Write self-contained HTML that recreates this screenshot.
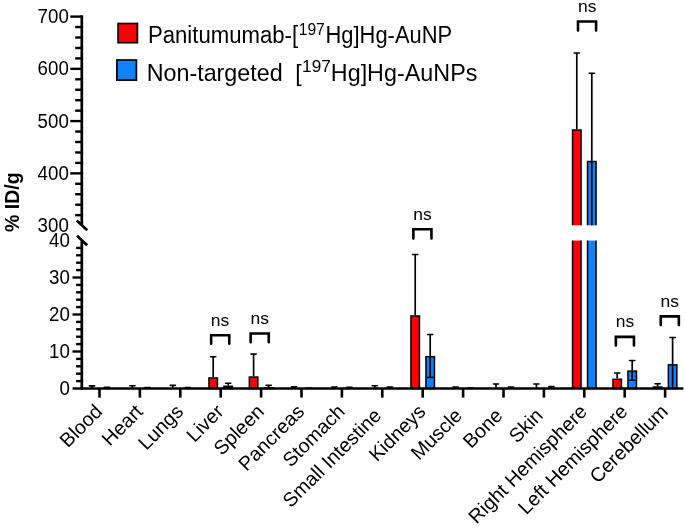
<!DOCTYPE html>
<html><head><meta charset="utf-8"><style>
html,body{margin:0;padding:0;background:#fff;}
#w{position:absolute;left:0;top:0;width:685px;height:529px;will-change:transform;}
svg{display:block;}
text{font-family:"Liberation Sans",sans-serif;fill:#000;}
</style></head><body><div id="w">
<svg width="685" height="529" viewBox="0 0 685 529">
<rect width="685" height="529" fill="#fff"/>
<path d="M92 387.94V385.91" stroke="#000" stroke-width="1.7"/>
<path d="M89.4 385.91H94.6" stroke="#000" stroke-width="1.6" stroke-linecap="round"/>
<path d="M107 389.06V388.5" stroke="#000" stroke-width="1.7"/>
<path d="M107 388.31V387.39" stroke="#000" stroke-width="1.7"/>
<path d="M104.4 387.39H109.6" stroke="#000" stroke-width="1.6" stroke-linecap="round"/>
<path d="M132.4 387.94V385.73" stroke="#000" stroke-width="1.7"/>
<path d="M129.8 385.73H135" stroke="#000" stroke-width="1.6" stroke-linecap="round"/>
<path d="M147.4 389.06V388.5" stroke="#000" stroke-width="1.7"/>
<path d="M147.4 388.31V387.57" stroke="#000" stroke-width="1.7"/>
<path d="M144.8 387.57H150" stroke="#000" stroke-width="1.6" stroke-linecap="round"/>
<path d="M172.8 387.76V385.36" stroke="#000" stroke-width="1.7"/>
<path d="M170.2 385.36H175.4" stroke="#000" stroke-width="1.6" stroke-linecap="round"/>
<path d="M187.8 389.06V388.5" stroke="#000" stroke-width="1.7"/>
<path d="M187.8 388.31V387.57" stroke="#000" stroke-width="1.7"/>
<path d="M185.2 387.57H190.4" stroke="#000" stroke-width="1.6" stroke-linecap="round"/>
<rect x="208.95" y="377.96" width="8.5" height="10.54" fill="#fb0007" stroke="#000" stroke-width="1.5"/>
<path d="M213.2 377.21V356.68" stroke="#000" stroke-width="1.7"/>
<path d="M210.6 356.68H215.8" stroke="#000" stroke-width="1.6" stroke-linecap="round"/>
<rect x="223.95" y="386.29" width="8.5" height="2.21" fill="#1181ff" stroke="#000" stroke-width="1.5"/>
<path d="M228.2 386.29V387.76" stroke="#000" stroke-width="1.7"/>
<path d="M225.6 387.76H230.8" stroke="#000" stroke-width="1.6" stroke-linecap="round"/>
<path d="M228.2 385.54V383.32" stroke="#000" stroke-width="1.7"/>
<path d="M225.6 383.32H230.8" stroke="#000" stroke-width="1.6" stroke-linecap="round"/>
<rect x="249.35" y="377.04" width="8.5" height="11.46" fill="#fb0007" stroke="#000" stroke-width="1.5"/>
<path d="M253.6 376.29V354.09" stroke="#000" stroke-width="1.7"/>
<path d="M251 354.09H256.2" stroke="#000" stroke-width="1.6" stroke-linecap="round"/>
<rect x="264.35" y="387.77" width="8.5" height="0.73" fill="#1181ff" stroke="#000" stroke-width="1.5"/>
<path d="M268.6 387.77V388.5" stroke="#000" stroke-width="1.7"/>
<path d="M268.6 387.02V385.36" stroke="#000" stroke-width="1.7"/>
<path d="M266 385.36H271.2" stroke="#000" stroke-width="1.6" stroke-linecap="round"/>
<path d="M294 388.13V386.83" stroke="#000" stroke-width="1.7"/>
<path d="M291.4 386.83H296.6" stroke="#000" stroke-width="1.6" stroke-linecap="round"/>
<path d="M309 389.06V388.5" stroke="#000" stroke-width="1.7"/>
<path d="M309 388.31V387.94" stroke="#000" stroke-width="1.7"/>
<path d="M306.4 387.94H311.6" stroke="#000" stroke-width="1.6" stroke-linecap="round"/>
<path d="M334.4 388.13V387.02" stroke="#000" stroke-width="1.7"/>
<path d="M331.8 387.02H337" stroke="#000" stroke-width="1.6" stroke-linecap="round"/>
<path d="M349.4 388.88V388.5" stroke="#000" stroke-width="1.7"/>
<path d="M349.4 388.13V387.2" stroke="#000" stroke-width="1.7"/>
<path d="M346.8 387.2H352" stroke="#000" stroke-width="1.6" stroke-linecap="round"/>
<path d="M374.8 387.76V385.73" stroke="#000" stroke-width="1.7"/>
<path d="M372.2 385.73H377.4" stroke="#000" stroke-width="1.6" stroke-linecap="round"/>
<path d="M389.8 388.88V388.5" stroke="#000" stroke-width="1.7"/>
<path d="M389.8 388.13V387.02" stroke="#000" stroke-width="1.7"/>
<path d="M387.2 387.02H392.4" stroke="#000" stroke-width="1.6" stroke-linecap="round"/>
<rect x="410.95" y="315.99" width="8.5" height="72.51" fill="#fb0007" stroke="#000" stroke-width="1.5"/>
<path d="M415.2 315.24V254.56" stroke="#000" stroke-width="1.7"/>
<path d="M412.6 254.56H417.8" stroke="#000" stroke-width="1.6" stroke-linecap="round"/>
<rect x="425.95" y="356.69" width="8.5" height="31.81" fill="#1181ff" stroke="#000" stroke-width="1.5"/>
<path d="M430.2 356.69V377.4" stroke="#000" stroke-width="1.7"/>
<path d="M427.6 377.4H432.8" stroke="#000" stroke-width="1.6" stroke-linecap="round"/>
<path d="M430.2 355.94V334.48" stroke="#000" stroke-width="1.7"/>
<path d="M427.6 334.48H432.8" stroke="#000" stroke-width="1.6" stroke-linecap="round"/>
<path d="M455.6 388.13V387.02" stroke="#000" stroke-width="1.7"/>
<path d="M453 387.02H458.2" stroke="#000" stroke-width="1.6" stroke-linecap="round"/>
<path d="M470.6 389.06V388.5" stroke="#000" stroke-width="1.7"/>
<path d="M470.6 388.31V387.94" stroke="#000" stroke-width="1.7"/>
<path d="M468 387.94H473.2" stroke="#000" stroke-width="1.6" stroke-linecap="round"/>
<path d="M496 387.76V384.06" stroke="#000" stroke-width="1.7"/>
<path d="M493.4 384.06H498.6" stroke="#000" stroke-width="1.6" stroke-linecap="round"/>
<path d="M511 388.88V388.5" stroke="#000" stroke-width="1.7"/>
<path d="M511 388.13V387.02" stroke="#000" stroke-width="1.7"/>
<path d="M508.4 387.02H513.6" stroke="#000" stroke-width="1.6" stroke-linecap="round"/>
<path d="M536.4 387.76V384.06" stroke="#000" stroke-width="1.7"/>
<path d="M533.8 384.06H539" stroke="#000" stroke-width="1.6" stroke-linecap="round"/>
<path d="M551.4 388.88V388.5" stroke="#000" stroke-width="1.7"/>
<path d="M551.4 388.13V386.65" stroke="#000" stroke-width="1.7"/>
<path d="M548.8 386.65H554" stroke="#000" stroke-width="1.6" stroke-linecap="round"/>
<rect x="572.55" y="130" width="8.5" height="95.3" fill="#fb0007"/>
<path d="M572.55 225.3V130H581.05V225.3" fill="none" stroke="#000" stroke-width="1.5"/>
<rect x="572.55" y="240.6" width="8.5" height="147.9" fill="#fb0007"/>
<path d="M572.55 240.6V388.5M581.05 240.6V388.5" fill="none" stroke="#000" stroke-width="1.5"/>
<path d="M576.8 129.25V52.97" stroke="#000" stroke-width="1.7"/>
<path d="M574.2 52.97H579.4" stroke="#000" stroke-width="1.6" stroke-linecap="round"/>
<rect x="587.55" y="161.61" width="8.5" height="63.69" fill="#1181ff"/>
<path d="M587.55 225.3V161.61H596.05V225.3" fill="none" stroke="#000" stroke-width="1.5"/>
<rect x="587.55" y="240.6" width="8.5" height="147.9" fill="#1181ff"/>
<path d="M587.55 240.6V388.5M596.05 240.6V388.5" fill="none" stroke="#000" stroke-width="1.5"/>
<path d="M591.8 161.61V225.3" stroke="#000" stroke-width="1.7"/>
<path d="M591.8 160.86V73.29" stroke="#000" stroke-width="1.7"/>
<path d="M589.2 73.29H594.4" stroke="#000" stroke-width="1.6" stroke-linecap="round"/>
<rect x="612.95" y="379.26" width="8.5" height="9.24" fill="#fb0007" stroke="#000" stroke-width="1.5"/>
<path d="M617.2 378.51V372.96" stroke="#000" stroke-width="1.7"/>
<path d="M614.6 372.96H619.8" stroke="#000" stroke-width="1.6" stroke-linecap="round"/>
<rect x="627.95" y="371.12" width="8.5" height="17.38" fill="#1181ff" stroke="#000" stroke-width="1.5"/>
<path d="M632.2 371.12V380.25" stroke="#000" stroke-width="1.7"/>
<path d="M629.6 380.25H634.8" stroke="#000" stroke-width="1.6" stroke-linecap="round"/>
<path d="M632.2 370.37V360.49" stroke="#000" stroke-width="1.7"/>
<path d="M629.6 360.49H634.8" stroke="#000" stroke-width="1.6" stroke-linecap="round"/>
<rect x="653.35" y="387.03" width="8.5" height="1.47" fill="#fb0007" stroke="#000" stroke-width="1.5"/>
<path d="M657.6 386.28V383.69" stroke="#000" stroke-width="1.7"/>
<path d="M655 383.69H660.2" stroke="#000" stroke-width="1.6" stroke-linecap="round"/>
<rect x="668.35" y="364.83" width="8.5" height="23.67" fill="#1181ff" stroke="#000" stroke-width="1.5"/>
<path d="M672.6 364.83V388.5" stroke="#000" stroke-width="1.7"/>
<path d="M672.6 364.08V337.44" stroke="#000" stroke-width="1.7"/>
<path d="M670 337.44H675.2" stroke="#000" stroke-width="1.6" stroke-linecap="round"/>
<path d="M81.8 15.3V224.5" stroke="#000" stroke-width="2.7"/>
<path d="M81.8 241.2V389.8" stroke="#000" stroke-width="2.7"/>
<path d="M72.6 388.5H683.4" stroke="#000" stroke-width="2.7"/>
<path d="M75.2 215.15H81.8" stroke="#000" stroke-width="2.4"/>
<path d="M75.2 204.7H81.8" stroke="#000" stroke-width="2.4"/>
<path d="M75.2 194.25H81.8" stroke="#000" stroke-width="2.4"/>
<path d="M75.2 183.8H81.8" stroke="#000" stroke-width="2.4"/>
<path d="M70.3 173.35H81.8" stroke="#000" stroke-width="2.4"/>
<path d="M75.2 162.9H81.8" stroke="#000" stroke-width="2.4"/>
<path d="M75.2 152.45H81.8" stroke="#000" stroke-width="2.4"/>
<path d="M75.2 142H81.8" stroke="#000" stroke-width="2.4"/>
<path d="M75.2 131.55H81.8" stroke="#000" stroke-width="2.4"/>
<path d="M70.3 121.1H81.8" stroke="#000" stroke-width="2.4"/>
<path d="M75.2 110.65H81.8" stroke="#000" stroke-width="2.4"/>
<path d="M75.2 100.2H81.8" stroke="#000" stroke-width="2.4"/>
<path d="M75.2 89.75H81.8" stroke="#000" stroke-width="2.4"/>
<path d="M75.2 79.3H81.8" stroke="#000" stroke-width="2.4"/>
<path d="M70.3 68.85H81.8" stroke="#000" stroke-width="2.4"/>
<path d="M75.2 58.4H81.8" stroke="#000" stroke-width="2.4"/>
<path d="M75.2 47.95H81.8" stroke="#000" stroke-width="2.4"/>
<path d="M75.2 37.5H81.8" stroke="#000" stroke-width="2.4"/>
<path d="M75.2 27.05H81.8" stroke="#000" stroke-width="2.4"/>
<path d="M70.3 16.6H81.8" stroke="#000" stroke-width="2.4"/>
<path d="M76.1 381.1H81.8" stroke="#000" stroke-width="2.4"/>
<path d="M76.1 373.7H81.8" stroke="#000" stroke-width="2.4"/>
<path d="M76.1 366.3H81.8" stroke="#000" stroke-width="2.4"/>
<path d="M76.1 358.9H81.8" stroke="#000" stroke-width="2.4"/>
<path d="M72.5 351.5H81.8" stroke="#000" stroke-width="2.4"/>
<path d="M76.1 344.1H81.8" stroke="#000" stroke-width="2.4"/>
<path d="M76.1 336.7H81.8" stroke="#000" stroke-width="2.4"/>
<path d="M76.1 329.3H81.8" stroke="#000" stroke-width="2.4"/>
<path d="M76.1 321.9H81.8" stroke="#000" stroke-width="2.4"/>
<path d="M72.5 314.5H81.8" stroke="#000" stroke-width="2.4"/>
<path d="M76.1 307.1H81.8" stroke="#000" stroke-width="2.4"/>
<path d="M76.1 299.7H81.8" stroke="#000" stroke-width="2.4"/>
<path d="M76.1 292.3H81.8" stroke="#000" stroke-width="2.4"/>
<path d="M76.1 284.9H81.8" stroke="#000" stroke-width="2.4"/>
<path d="M72.5 277.5H81.8" stroke="#000" stroke-width="2.4"/>
<path d="M76.1 270.1H81.8" stroke="#000" stroke-width="2.4"/>
<path d="M76.1 262.7H81.8" stroke="#000" stroke-width="2.4"/>
<path d="M76.1 255.3H81.8" stroke="#000" stroke-width="2.4"/>
<path d="M76.1 247.9H81.8" stroke="#000" stroke-width="2.4"/>
<path d="M76.7 220.5L87.3 230.2M77.0 235.8L87.2 245.2" stroke="#000" stroke-width="2.7"/>
<path d="M99.5 388.5V397.6" stroke="#000" stroke-width="2.6"/>
<path d="M139.9 388.5V397.6" stroke="#000" stroke-width="2.6"/>
<path d="M180.3 388.5V397.6" stroke="#000" stroke-width="2.6"/>
<path d="M220.7 388.5V397.6" stroke="#000" stroke-width="2.6"/>
<path d="M261.1 388.5V397.6" stroke="#000" stroke-width="2.6"/>
<path d="M301.5 388.5V397.6" stroke="#000" stroke-width="2.6"/>
<path d="M341.9 388.5V397.6" stroke="#000" stroke-width="2.6"/>
<path d="M382.3 388.5V397.6" stroke="#000" stroke-width="2.6"/>
<path d="M422.7 388.5V397.6" stroke="#000" stroke-width="2.6"/>
<path d="M463.1 388.5V397.6" stroke="#000" stroke-width="2.6"/>
<path d="M503.5 388.5V397.6" stroke="#000" stroke-width="2.6"/>
<path d="M543.9 388.5V397.6" stroke="#000" stroke-width="2.6"/>
<path d="M584.3 388.5V397.6" stroke="#000" stroke-width="2.6"/>
<path d="M624.7 388.5V397.6" stroke="#000" stroke-width="2.6"/>
<path d="M665.1 388.5V397.6" stroke="#000" stroke-width="2.6"/>
<text transform="translate(68.83,23.1) scale(0.985,1.045)" font-size="19" text-anchor="end">700</text>
<text transform="translate(68.83,75.35) scale(0.985,1.045)" font-size="19" text-anchor="end">600</text>
<text transform="translate(68.83,127.6) scale(0.985,1.045)" font-size="19" text-anchor="end">500</text>
<text transform="translate(68.83,179.85) scale(0.985,1.045)" font-size="19" text-anchor="end">400</text>
<text transform="translate(68.83,232.1) scale(0.985,1.045)" font-size="19" text-anchor="end">300</text>
<text transform="translate(69.93,247) scale(0.985,1.045)" font-size="19" text-anchor="end">40</text>
<text transform="translate(69.93,284) scale(0.985,1.045)" font-size="19" text-anchor="end">30</text>
<text transform="translate(69.93,321) scale(0.985,1.045)" font-size="19" text-anchor="end">20</text>
<text transform="translate(69.93,358) scale(0.985,1.045)" font-size="19" text-anchor="end">10</text>
<text transform="translate(69.93,395) scale(0.985,1.045)" font-size="19" text-anchor="end">0</text>
<text transform="translate(147.98,42.8) scale(0.9507,1.0)" font-size="23.3">Panitumumab-[</text>
<text transform="translate(298.71,34.6) scale(0.9656,1.0)" font-size="16.2">197</text>
<text transform="translate(325.5,42.8) scale(0.9406,1.0)" font-size="23.3">Hg]Hg-AuNP</text>
<text transform="translate(146.69,81) scale(0.9877,1.0)" font-size="23.6">Non-targeted</text>
<text transform="translate(295.35,81) scale(0.9812,1.0)" font-size="23.6">[</text>
<text transform="translate(302.09,72.4) scale(1.0455,1.0)" font-size="16.5">197</text>
<text transform="translate(330.79,81) scale(0.9892,1.0)" font-size="23.6">Hg]Hg-AuNPs</text>
<text transform="translate(103.6,412.8) rotate(-45)" font-size="19.8" text-anchor="end">Blood</text>
<text transform="translate(144,412.8) rotate(-45)" font-size="19.8" text-anchor="end">Heart</text>
<text transform="translate(184.4,412.8) rotate(-45)" font-size="19.8" text-anchor="end">Lungs</text>
<text transform="translate(224.8,412.8) rotate(-45)" font-size="19.8" text-anchor="end">Liver</text>
<text transform="translate(265.2,412.8) rotate(-45)" font-size="19.8" text-anchor="end">Spleen</text>
<text transform="translate(305.6,412.8) rotate(-45)" font-size="19.8" text-anchor="end">Pancreas</text>
<text transform="translate(346,412.8) rotate(-45)" font-size="19.8" text-anchor="end">Stomach</text>
<text transform="translate(386.4,412.8) rotate(-45)" font-size="19.8" text-anchor="end">Small Intestine&#160;</text>
<text transform="translate(426.8,412.8) rotate(-45)" font-size="19.8" text-anchor="end">Kidneys</text>
<text transform="translate(467.2,412.8) rotate(-45)" font-size="19.8" text-anchor="end">Muscle&#160;</text>
<text transform="translate(507.6,412.8) rotate(-45)" font-size="19.8" text-anchor="end">Bone&#160;</text>
<text transform="translate(548,412.8) rotate(-45)" font-size="19.8" text-anchor="end">Skin&#160;</text>
<text transform="translate(588.4,412.8) rotate(-45)" font-size="19.8" text-anchor="end">Right Hemisphere</text>
<text transform="translate(628.8,412.8) rotate(-45)" font-size="19.8" text-anchor="end">Left Hemisphere</text>
<text transform="translate(669.2,412.8) rotate(-45)" font-size="19.8" text-anchor="end">Cerebellum</text>
<text transform="translate(18.8,202.2) rotate(-90)" text-anchor="middle" font-size="19.5" font-weight="bold">% ID/g</text>
<path d="M211.15 343.8V335.3H229.25V343.8" fill="none" stroke="#000" stroke-width="2.6" stroke-linecap="round"/>
<text transform="translate(220,325.9) scale(1,0.94)" text-anchor="middle" font-size="17.5">ns</text>
<path d="M250.65 342.2V333.5H268.75V342.2" fill="none" stroke="#000" stroke-width="2.6" stroke-linecap="round"/>
<text transform="translate(259.85,323.9) scale(1,0.94)" text-anchor="middle" font-size="17.5">ns</text>
<path d="M413.35 238.4V229.3H431.45V238.4" fill="none" stroke="#000" stroke-width="2.6" stroke-linecap="round"/>
<text transform="translate(422.6,219.9) scale(1,0.94)" text-anchor="middle" font-size="17.5">ns</text>
<path d="M578 30.5V21.5H596.1V30.5" fill="none" stroke="#000" stroke-width="2.6" stroke-linecap="round"/>
<text transform="translate(587.2,11.9) scale(1,0.94)" text-anchor="middle" font-size="17.5">ns</text>
<path d="M615.85 345.5V336.9H633.95V345.5" fill="none" stroke="#000" stroke-width="2.6" stroke-linecap="round"/>
<text transform="translate(625,326.7) scale(1,0.94)" text-anchor="middle" font-size="17.5">ns</text>
<path d="M660.75 325.1V316.35H678.85V325.1" fill="none" stroke="#000" stroke-width="2.6" stroke-linecap="round"/>
<text transform="translate(669.8,306.7) scale(1,0.94)" text-anchor="middle" font-size="17.5">ns</text>
<rect x="118.1" y="23.5" width="19.3" height="19.2" fill="#fb0007" stroke="#000" stroke-width="1.7"/>
<rect x="116.9" y="60" width="19.5" height="20.1" fill="#1181ff" stroke="#000" stroke-width="1.7"/>
</svg>
</div></body></html>
